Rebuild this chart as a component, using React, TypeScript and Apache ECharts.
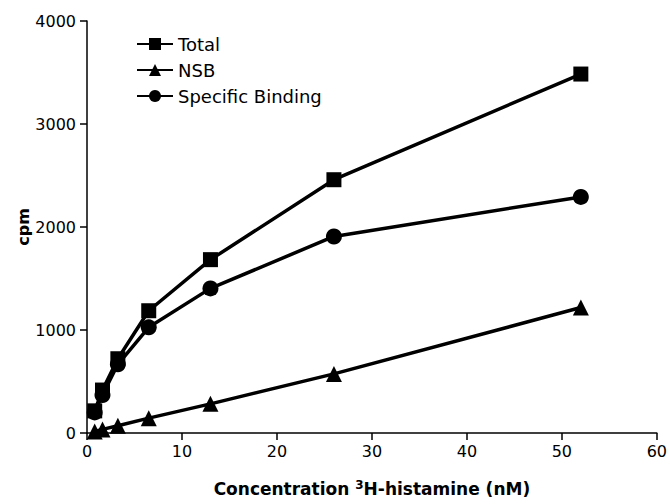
import React, { useEffect, useRef } from "react";
import * as echarts from "echarts";

const concentrations = [0.81, 1.63, 3.25, 6.5, 13, 26, 52];
const totalValues = [215, 417, 721, 1187, 1683, 2459, 3485];
const nsbValues = [15, 35, 71, 144, 283, 574, 1218];
const specificValues = [200, 369, 667, 1026, 1404, 1908, 2292];
const xTicks = { min: 0, max: 60, interval: 10 };
const yTicks = { min: 0, max: 4000, interval: 1000 };

const pair = (vals: number[]) => concentrations.map((c, i) => [c, vals[i]]);

export default function App() {
  const ref = useRef<HTMLDivElement>(null);
  useEffect(() => {
    if (!ref.current) return;
    const chart = echarts.init(ref.current, undefined, { renderer: "svg" });
    const font = "DejaVu Sans, Arial, Helvetica, sans-serif";
    const lineStyle = { color: "#000", width: 3.5 };
    chart.setOption({
      animation: false,
      backgroundColor: "#fff",
      textStyle: { fontFamily: font, color: "#000" },
      grid: { left: 87, right: 10, top: 21, bottom: 67, containLabel: false },
      legend: {
        orient: "vertical",
        left: 131,
        top: 30,
        itemWidth: 36,
        itemHeight: 15,
        itemGap: 8,
        textStyle: { fontSize: 18, color: "#000", fontFamily: font },
        data: ["Total", "NSB", "Specific Binding"],
      },
      xAxis: {
        type: "value",
        min: xTicks.min,
        max: xTicks.max,
        interval: xTicks.interval,
        name: "Concentration {sup|3}H-histamine (nM)",
        nameLocation: "middle",
        nameGap: 46,
        nameTextStyle: {
          fontSize: 17,
          fontWeight: "bold",
          color: "#000",
          fontFamily: font,
          lineHeight: 20,
          rich: {
            sup: { fontSize: 12, fontWeight: "bold", fontFamily: font, color: "#000", verticalAlign: "top", lineHeight: 20, padding: [0, 0, 8, 0] },
          },
        },
        axisLine: { lineStyle: { color: "#000", width: 1.5 } },
        axisTick: { show: true, length: 7, lineStyle: { color: "#000", width: 1.5 } },
        axisLabel: { fontSize: 16, color: "#000", margin: 10, fontFamily: font },
        splitLine: { show: false },
      },
      yAxis: {
        type: "value",
        min: yTicks.min,
        max: yTicks.max,
        interval: yTicks.interval,
        name: "cpm",
        nameLocation: "middle",
        nameGap: 56,
        nameMoveOverlap: false,
        nameRotate: 90,
        nameTextStyle: { fontSize: 16, fontWeight: "bold", color: "#000", fontFamily: font },
        axisLine: { show: true, lineStyle: { color: "#000", width: 1.5 } },
        axisTick: { show: true, length: 7, lineStyle: { color: "#000", width: 1.5 } },
        axisLabel: { fontSize: 16, color: "#000", margin: 11, fontFamily: font, formatter: (v: number) => String(v) },
        splitLine: { show: false },
      },
      series: [
        {
          name: "Total",
          type: "line",
          data: pair(totalValues),
          symbol: "rect",
          symbolSize: 15,
          lineStyle,
          itemStyle: { color: "#000" },
          z: 3,
        },
        {
          name: "NSB",
          type: "line",
          data: pair(nsbValues),
          symbol: "triangle",
          symbolSize: 16,
          lineStyle,
          itemStyle: { color: "#000" },
        },
        {
          name: "Specific Binding",
          type: "line",
          data: pair(specificValues),
          symbol: "circle",
          symbolSize: 16,
          lineStyle,
          itemStyle: { color: "#000" },
        },
      ],
    });
    return () => chart.dispose();
  }, []);
  return <div ref={ref} style={{ position: "absolute", left: 0, top: 0, width: 670, height: 504 }} />;
}
